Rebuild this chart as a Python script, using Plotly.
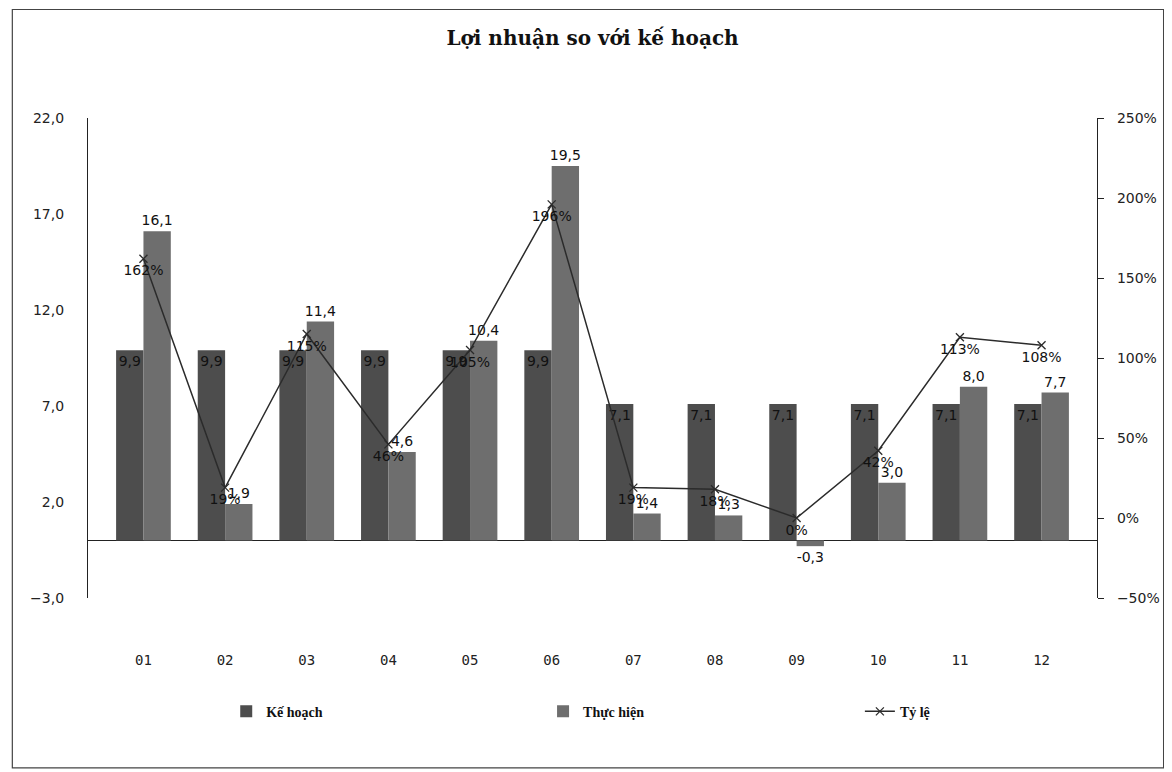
import plotly.graph_objects as go

# Monthly profit vs plan (billion VND) and completion ratio (%)
months = ["01", "02", "03", "04", "05", "06", "07", "08", "09", "10", "11", "12"]
ke_hoach = [9.9, 9.9, 9.9, 9.9, 9.9, 9.9, 7.1, 7.1, 7.1, 7.1, 7.1, 7.1]
thuc_hien = [16.1, 1.9, 11.4, 4.6, 10.4, 19.5, 1.4, 1.3, -0.3, 3.0, 8.0, 7.7]
ty_le = [162, 19, 115, 46, 105, 196, 19, 18, 0, 42, 113, 108]

num_font = dict(family="DejaVu Sans", size=14, color="#111")

fig = go.Figure()

fig.add_trace(go.Bar(
    x=months, y=ke_hoach, name="Kế hoạch", legend="legend",
    marker=dict(color="#4d4d4d", line=dict(width=0)),
    texttemplate="%{y:.1f}", textposition="inside", insidetextanchor="end",
    textangle=0, constraintext="none", textfont=num_font,
))
fig.add_trace(go.Bar(
    x=months, y=thuc_hien, name="Thực hiện", legend="legend2",
    marker=dict(color="#6e6e6e", line=dict(width=0)),
    texttemplate="%{y:.1f}", textposition="outside",
    textangle=0, constraintext="none", textfont=num_font, cliponaxis=False,
))
fig.add_trace(go.Scatter(
    x=months, y=ty_le, name="Tỷ lệ", yaxis="y2", legend="legend3",
    mode="lines+markers+text",
    line=dict(color="#2b2b2b", width=1.5),
    marker=dict(symbol="x-thin", size=8, line=dict(width=1.3, color="#2b2b2b")),
    texttemplate="%{y:.0f}%", textposition="bottom center",
    textfont=num_font, cliponaxis=False,
))

# thin frame around the whole chart
fig.add_shape(type="rect", xref="paper", yref="paper",
              x0=-0.075, x1=1.066, y0=-0.354, y1=1.226,
              line=dict(color="#444", width=1.2), fillcolor="rgba(0,0,0,0)")

legend_font = dict(family="Liberation Serif", size=14, color="#111", weight="bold")


def legend_at(x):
    return dict(orientation="h", x=x, xanchor="left", y=-0.237, yanchor="middle",
                font=legend_font, bgcolor="rgba(0,0,0,0)")


fig.update_layout(
    width=1164, height=764,
    margin=dict(l=80, r=72, t=110, b=174),
    paper_bgcolor="white", plot_bgcolor="white",
    separators=",.",
    barmode="group", bargap=0.33, bargroupgap=0,
    title=dict(text="<b>Lợi nhuận so với kế hoạch</b>",
               font=dict(family="DejaVu Serif", size=20, color="#111"),
               x=0.5, xref="paper", xanchor="center",
               y=0.961, yanchor="middle"),
    xaxis=dict(type="category", showline=False, showgrid=False, zeroline=False,
               ticks="", ticklabelstandoff=52,
               tickfont=dict(family="DejaVu Sans Mono", size=14, color="#222")),
    yaxis=dict(range=[-3, 22], dtick=5, tick0=-3, tickformat=".1f",
               showline=True, linecolor="#222", linewidth=1.2,
               showgrid=False, zeroline=True, zerolinecolor="#222", zerolinewidth=1.2,
               ticks="", ticklabelstandoff=20,
               tickfont=dict(family="DejaVu Sans", size=14, color="#222")),
    yaxis2=dict(range=[-50, 250], dtick=50, ticksuffix="%", overlaying="y", side="right",
                showline=True, linecolor="#222", linewidth=1.2, showgrid=False, zeroline=False,
                ticks="outside", ticklen=6, tickcolor="#222", ticklabelstandoff=10,
                tickfont=dict(family="DejaVu Sans", size=14, color="#222")),
    showlegend=True,
    legend=legend_at(0.137),
    legend2=legend_at(0.451),
    legend3=legend_at(0.765),
)

fig.write_html("out.html")
